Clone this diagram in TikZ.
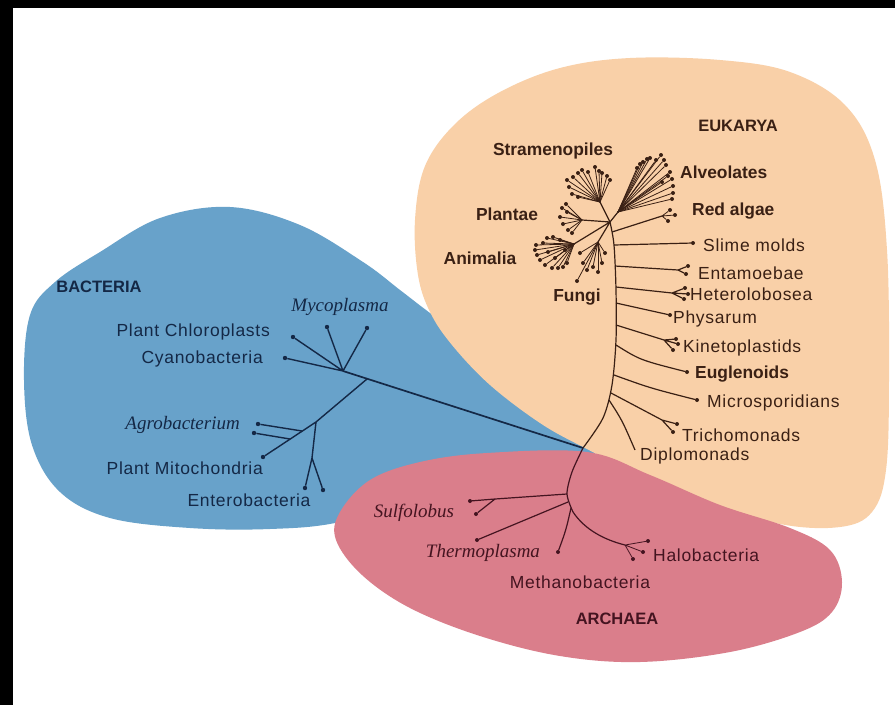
\documentclass[tikz,border=0pt]{standalone}
\usepackage{fontspec}
\setmainfont{Liberation Sans}
\newfontfamily\widesans[LetterSpace=4.0]{Liberation Sans}
\newfontfamily\taxonserif{Liberation Serif}
\definecolor{eukfill}{RGB}{249,208,168}
\definecolor{bacfill}{RGB}{104,162,202}
\definecolor{arcfill}{RGB}{218,126,139}
\definecolor{eukink}{RGB}{58,32,20}
\definecolor{bacink}{RGB}{20,40,70}
\definecolor{arcink}{RGB}{68,20,32}

\begin{document}
\begin{tikzpicture}[x=1pt, y=-1pt,
    taxon/.style={inner sep=0pt, font=\widesans\fontsize{17.5}{20}\selectfont},
    cladename/.style={inner sep=0pt, font=\bfseries\fontsize{17.4}{20}\selectfont},
    domainname/.style={inner sep=0pt, font=\bfseries\fontsize{16.5}{19}\selectfont},
    genus/.style={inner sep=0pt, font=\taxonserif\itshape\fontsize{19}{22}\selectfont},
    eleaf/.style={circle, fill=eukink, inner sep=0pt, minimum size=4pt},
    bleaf/.style={circle, fill=bacink, inner sep=0pt, minimum size=4.4pt},
    aleaf/.style={circle, fill=arcink, inner sep=0pt, minimum size=4pt},
    eline/.style={draw=eukink, line width=1.2pt},
    bline/.style={draw=bacink, line width=1.4pt},
    aline/.style={draw=arcink, line width=1.2pt}
]
    \useasboundingbox (0,0) rectangle (895,705);
    \fill[white] (0,0) rectangle (895,705);
    \fill[black] (0,0) rectangle (895,8);
    \fill[black] (0,0) rectangle (13,705);

    % the three domains
    \fill[bacfill] plot[smooth cycle, tension=0.6] coordinates {
        (595,452) (500,365) (430,313) (400,290) (363,262) (300,225)
        (230,207) (160,218) (100,252) (55,282) (30,315) (24,380)
        (32,445) (60,492) (110,518) (190,528) (270,529) (340,522)
        (430,495) (520,468)};
    \fill[eukfill] plot[smooth cycle, tension=0.6] coordinates {
        (630,58) (720,60) (790,72) (845,105) (875,160) (887,250)
        (889,380) (886,470) (872,512) (840,527) (780,524) (700,500)
        (640,475) (583,447) (540,423) (490,385) (452,345) (430,312)
        (418,275) (415,220) (425,166) (455,124) (500,92) (560,68)};
    \fill[arcfill] plot[smooth cycle, tension=0.6] coordinates {
        (587,452) (650,475) (720,505) (790,528) (830,550) (842,582)
        (832,612) (800,632) (730,652) (640,662) (560,656) (480,636)
        (410,608) (362,575) (336,540) (340,512) (370,480) (420,462)
        (487,453)};

    % eukarya trunk
    \coordinate (e0) at (610,222);
    \coordinate (t1) at (614,245);
    \coordinate (t2) at (616,290);
    \coordinate (t3) at (616,340);
    \coordinate (t4) at (612,385);
    \coordinate (t5) at (603,418);
    \coordinate (root) at (583,448);
    \coordinate (t6) at (572,472);
    \coordinate (a1) at (567,494);
    \coordinate (a2) at (568,502);
    \coordinate (a3) at (571,508);
    \coordinate (a4) at (573,512);
    \draw[eline] plot[smooth] coordinates {(e0) (t1) (t2) (t3) (t4) (t5) (root)};
    \draw[aline] plot[smooth] coordinates {(root) (t6) (a1) (a4)};

    % crown groups
    \coordinate (s0) at (600,202);
    \coordinate (p0) at (582,220);
    \coordinate (an0) at (574,244);
    \coordinate (f0) at (598,242);
    \coordinate (al0) at (618,212);
    \draw[eline] (e0) -- (s0) (e0) -- (p0) (e0) -- (an0) (e0) -- (f0) (e0) -- (al0);
    \foreach \x/\y [count=\i] in {567/180, 573/177, 578/173, 582/170, 588/172,
            595/167, 599/171, 602/173, 607/176, 610/180, 569/187, 572/194,
            578/197} {
        \node[eleaf] (st\i) at (\x,\y) {};
        \draw[eline, line width=0.8pt] (s0) -- (st\i);
    }
    \foreach \x/\y [count=\i] in {562/208, 566/204, 560/217, 563/224, 568/230,
            567/212, 572/233} {
        \node[eleaf] (pl\i) at (\x,\y) {};
        \draw[eline, line width=0.8pt] (p0) -- (pl\i);
    }
    \foreach \x/\y [count=\i] in {535/250, 536/245, 537/255, 540/260, 545/265,
            548/252, 552/268, 555/258, 558/268, 563/267, 567/263, 547/238,
            553/237, 560/240, 543/243, 565/250} {
        \node[eleaf] (an\i) at (\x,\y) {};
        \draw[eline, line width=0.8pt] (an0) -- (an\i);
    }
    \foreach \x/\y [count=\i] in {580/253, 583/263, 587/270, 577/281, 593/267,
            598/272, 602/263, 605/253} {
        \node[eleaf] (fu\i) at (\x,\y) {};
        \draw[eline, line width=0.8pt] (f0) -- (fu\i);
    }
    \foreach \x/\y [count=\i] in {637/168, 640/164, 643/162, 647/159, 650/158,
            656/160, 661/155, 664/160, 666/165, 670/172, 672/179, 673/186,
            673/193, 672/199, 668/176, 662/182} {
        \node[eleaf] (al\i) at (\x,\y) {};
        \draw[eline, line width=0.8pt] (al0) -- (al\i);
    }

    % red algae
    \coordinate (jred) at (612,232);
    \coordinate (redf) at (662,216);
    \node[eleaf] (red1) at (670,210) {};
    \node[eleaf] (red2) at (675,215) {};
    \node[eleaf] (red3) at (668,221) {};
    \draw[eline] (jred) -- (redf);
    \draw[eline, line width=0.8pt] (redf) -- (red1) (redf) -- (red2) (redf) -- (red3);

    % side branches of the trunk
    \coordinate (jent) at (615,266);
    \coordinate (jhet) at (616,287);
    \coordinate (jphy) at (616,303);
    \coordinate (jkin) at (616,325);
    \coordinate (jeug) at (616,345);
    \coordinate (jmic) at (614,375);
    \coordinate (jtri) at (611,393);
    \coordinate (jdip) at (609,400);
    \node[eleaf] (slime) at (693,243) {};
    \draw[eline] (t1) -- (slime);
    \coordinate (entf) at (678,270);
    \node[eleaf] (ent1) at (688,266) {};
    \node[eleaf] (ent2) at (686,274) {};
    \draw[eline] (jent) -- (entf) -- (ent1) (entf) -- (ent2);
    \coordinate (hetf) at (672,293);
    \node[eleaf] (het1) at (685,288) {};
    \node[eleaf] (het2) at (688,294) {};
    \node[eleaf] (het3) at (684,299) {};
    \draw[eline] (jhet) -- (hetf) -- (het1) (hetf) -- (het2) (hetf) -- (het3);
    \node[eleaf] (phy) at (670,315) {};
    \draw[eline] (jphy) -- (phy);
    \coordinate (kinf) at (664,340);
    \node[eleaf] (kin1) at (676,339) {};
    \node[eleaf] (kin2) at (678,344) {};
    \node[eleaf] (kin3) at (673,350) {};
    \draw[eline] (jkin) -- (kinf) -- (kin1) (kinf) -- (kin2) (kinf) -- (kin3);
    \node[eleaf] (eug) at (687,372) {};
    \draw[eline] (jeug) .. controls (640,360) .. (eug);
    \node[eleaf] (mic) at (697,400) {};
    \draw[eline] (jmic) .. controls (650,388) .. (mic);
    \coordinate (trif) at (662,420);
    \node[eleaf] (tri1) at (677,424) {};
    \node[eleaf] (tri2) at (673,432) {};
    \draw[eline] (jtri) -- (trif) -- (tri1) (trif) -- (tri2);
    \coordinate (dip) at (635,450);
    \draw[eline] (jdip) .. controls (622,420) .. (dip);

    % bacteria tree
    \coordinate (b1) at (343,371);
    \coordinate (b2) at (367,379);
    \coordinate (b3) at (316,422);
    \coordinate (b4) at (302,431);
    \coordinate (b5) at (290,439);
    \coordinate (b6) at (312,458);
    \node[bleaf] (myco1) at (327,327) {};
    \node[bleaf] (myco2) at (367,328) {};
    \node[bleaf] (chloro) at (293,337) {};
    \node[bleaf] (cyano) at (285,358) {};
    \node[bleaf] (agro1) at (258,424) {};
    \node[bleaf] (agro2) at (254,433) {};
    \node[bleaf] (mito) at (263,457) {};
    \node[bleaf] (entero1) at (305,488) {};
    \node[bleaf] (entero2) at (323,490) {};
    \draw[bline, line width=1.7pt] (b1) -- (root);
    \draw[bline] (cyano) -- (b1) (chloro) -- (b1) (myco1) -- (b1) (myco2) -- (b1);
    \draw[bline] (b2) -- (b3) -- (mito);
    \draw[bline] (b4) -- (agro1) (b5) -- (agro2);
    \draw[bline] (b3) -- (b6) -- (entero1) (b6) -- (entero2);

    % archaea tree
    \coordinate (s1) at (495,499);
    \coordinate (h1) at (625,545);
    \node[aleaf] (sulfo1) at (470,501) {};
    \node[aleaf] (sulfo2) at (476,514) {};
    \node[aleaf] (thermo) at (477,540) {};
    \node[aleaf] (methano) at (558,552) {};
    \node[aleaf] (halo1) at (648,541) {};
    \node[aleaf] (halo2) at (643,552) {};
    \node[aleaf] (halo3) at (633,559) {};
    \draw[aline] (a1) -- (s1) -- (sulfo1) (s1) -- (sulfo2);
    \draw[aline] (a2) -- (thermo);
    \draw[aline] (a3) .. controls (566,530) .. (methano);
    \draw[aline] (a4) .. controls (585,530) and (605,540) .. (h1);
    \draw[aline, line width=0.8pt] (h1) -- (halo1) (h1) -- (halo2) (h1) -- (halo3);

    % eukarya labels
    \node[domainname, text=eukink] (eukarya) at (738,126) {EUKARYA};
    \node[cladename, text=eukink] (strameno) at (553,151) {Stramenopiles};
    \node[cladename, text=eukink, anchor=west] (alveo) at (680,172) {Alveolates};
    \node[cladename, text=eukink] (plantae) at (507,214) {Plantae};
    \node[cladename, text=eukink, anchor=west] (redalgae) at (692,211) {Red algae};
    \node[cladename, text=eukink] (animalia) at (480,258) {Animalia};
    \node[cladename, text=eukink] (fungi) at (577,297) {Fungi};
    \node[taxon, text=eukink, anchor=west] (slimetxt) at (703,245) {Slime molds};
    \node[taxon, text=eukink, anchor=west] (enttxt) at (698,273) {Entamoebae};
    \node[taxon, text=eukink, anchor=west] (hettxt) at (690,294) {Heterolobosea};
    \node[taxon, text=eukink, anchor=west] (phytxt) at (673,319) {Physarum};
    \node[taxon, text=eukink, anchor=west] (kintxt) at (683,348) {Kinetoplastids};
    \node[cladename, text=eukink, anchor=west] (eugtxt) at (695,374) {Euglenoids};
    \node[taxon, text=eukink, anchor=west] (mictxt) at (707,403) {Microsporidians};
    \node[taxon, text=eukink, anchor=west] (tritxt) at (682,435) {Trichomonads};
    \node[taxon, text=eukink, anchor=west] (diptxt) at (640,456) {Diplomonads};

    % bacteria labels
    \node[domainname, text=bacink] (bacteria) at (99,287) {BACTERIA};
    \node[genus, text=bacink] (mycotxt) at (340,307) {Mycoplasma};
    \node[taxon, text=bacink, anchor=east] (chlorotxt) at (270,332) {Plant Chloroplasts};
    \node[taxon, text=bacink, anchor=east] (cyanotxt) at (263,359) {Cyanobacteria};
    \node[genus, text=bacink, anchor=east] (agrotxt) at (240,425) {Agrobacterium};
    \node[taxon, text=bacink, anchor=east] (mitotxt) at (263,468) {Plant Mitochondria};
    \node[taxon, text=bacink] (enterotxt) at (249,500) {Enterobacteria};

    % archaea labels
    \node[genus, text=arcink] (sulfotxt) at (414,513) {Sulfolobus};
    \node[genus, text=arcink] (thermotxt) at (483,553) {Thermoplasma};
    \node[taxon, text=arcink, anchor=west] (halotxt) at (653,555) {Halobacteria};
    \node[taxon, text=arcink] (methanotxt) at (580,582) {Methanobacteria};
    \node[domainname, text=arcink] (archaea) at (617,619) {ARCHAEA};

\end{tikzpicture}
\end{document}
